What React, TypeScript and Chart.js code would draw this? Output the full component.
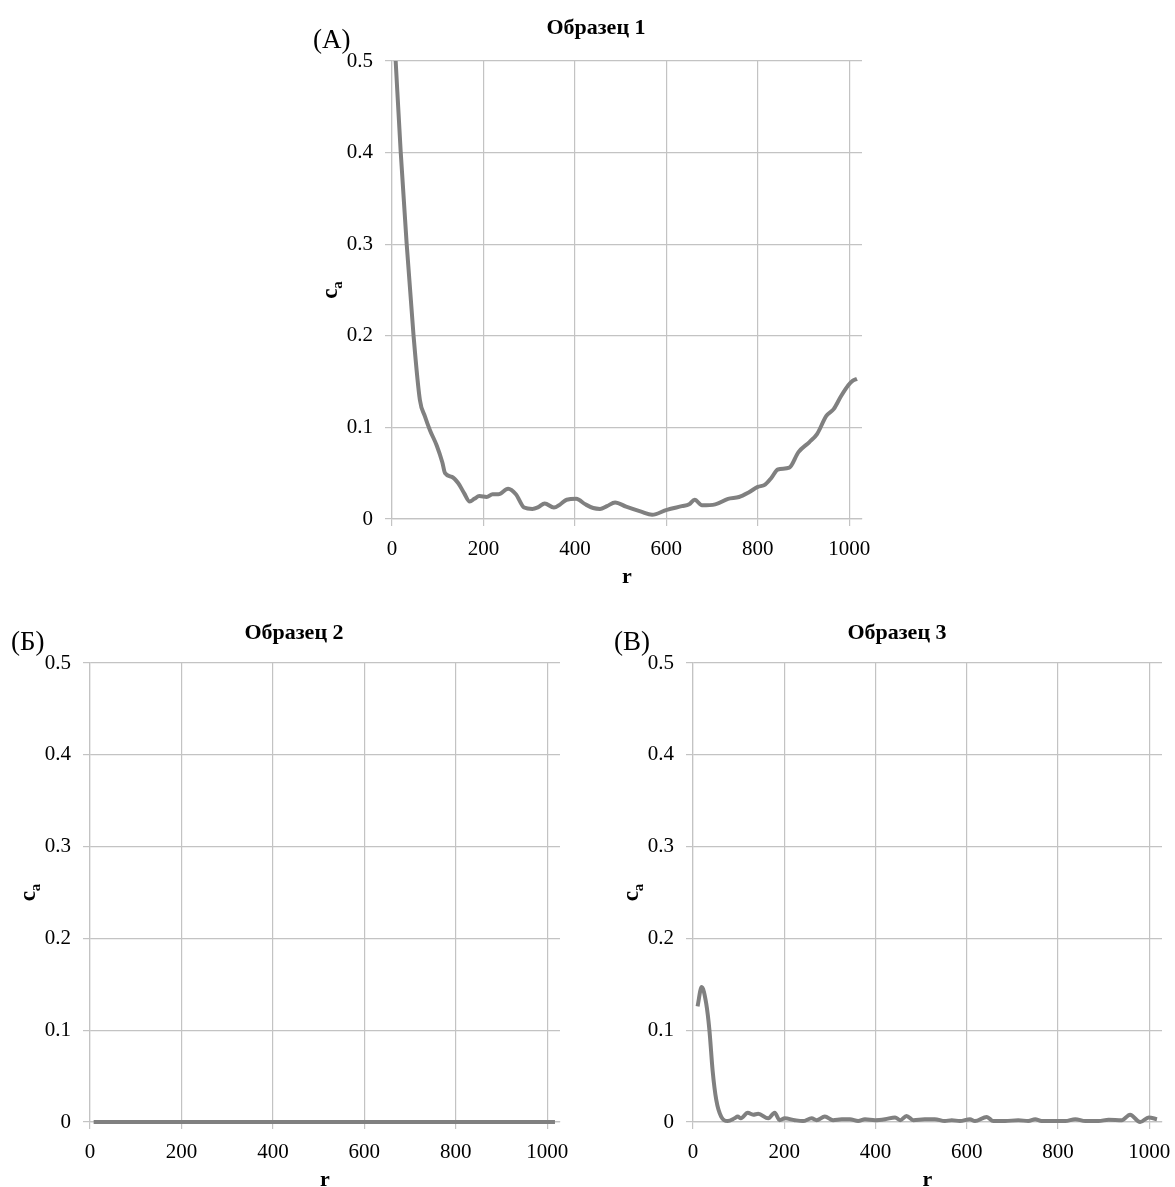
import React, { useEffect, useRef } from 'react';
import { Chart, registerables } from 'chart.js';

Chart.register(...registerables);

const SERIF = '"Liberation Serif", "Times New Roman", serif';

const xTickValues = [0, 200, 400, 600, 800, 1000];
const yTickValues = [0, 0.1, 0.2, 0.3, 0.4, 0.5];
const yTickLabels = ['0', '0.1', '0.2', '0.3', '0.4', '0.5'];
const xAxisTitle = 'r';
const yAxisTitleMain = 'c';
const yAxisTitleSub = 'a';

const titles = ['Образец 1', 'Образец 2', 'Образец 3'];
const panelLabels = ['(А)', '(Б)', '(В)'];

// Образец 1
const rA = [8, 19, 32, 47, 61, 72, 83, 98, 110, 116, 131, 145, 158, 170, 180, 191, 207, 220, 233, 254, 271, 289, 307, 320, 334, 354, 368, 382, 403, 423, 440, 455, 470, 488, 512, 545, 569, 601, 634, 650, 662, 678, 707, 735, 759, 780, 800, 816, 830, 844, 869, 889, 913, 930, 950, 966, 982, 998, 1008, 1017];
const cA = [0.5, 0.401, 0.301, 0.201, 0.13, 0.112, 0.097, 0.08, 0.062, 0.05, 0.046, 0.039, 0.028, 0.019, 0.022, 0.025, 0.024, 0.027, 0.027, 0.033, 0.027, 0.0125, 0.011, 0.013, 0.017, 0.0125, 0.016, 0.021, 0.022, 0.016, 0.012, 0.011, 0.014, 0.018, 0.0135, 0.008, 0.0046, 0.01, 0.014, 0.016, 0.021, 0.015, 0.016, 0.022, 0.024, 0.029, 0.035, 0.0375, 0.045, 0.054, 0.056, 0.073, 0.084, 0.093, 0.1125, 0.12, 0.134, 0.146, 0.151, 0.153];

// Образец 2
const rB = [8, 200, 400, 600, 800, 1017];
const cB = [0, 0, 0, 0, 0, 0];

// Образец 3
const rV = [10, 19, 29, 36, 43, 51, 62, 76, 91, 98, 105, 120, 132, 143, 165, 179, 190, 201, 223, 241, 260, 271, 289, 307, 326, 344, 362, 377, 399, 421, 443, 454, 468, 483, 508, 530, 552, 567, 585, 607, 618, 644, 658, 684, 713, 735, 750, 764, 786, 816, 838, 860, 889, 911, 940, 958, 980, 999, 1017];
const cV = [0.126, 0.147, 0.129, 0.1, 0.056, 0.024, 0.0055, 0.001, 0.004, 0.006, 0.004, 0.01, 0.008, 0.009, 0.004, 0.01, 0.002, 0.004, 0.002, 0.001, 0.004, 0.002, 0.006, 0.002, 0.003, 0.003, 0.001, 0.003, 0.002, 0.003, 0.005, 0.002, 0.0065, 0.002, 0.003, 0.003, 0.001, 0.002, 0.001, 0.003, 0.001, 0.0055, 0.001, 0.001, 0.002, 0.001, 0.003, 0.001, 0.001, 0.001, 0.003, 0.001, 0.001, 0.0025, 0.002, 0.008, 0.0, 0.005, 0.003];

type Panel = {
  r: number[];
  c: number[];
  title: string;
  label: string;
  box: { left: number; top: number; width: number; height: number };
  areaLeft: number;
  padTop: number;
  padRight: number;
  xHeight: number;
  titleGap: number;
};

const panels: Panel[] = [
  { r: rA, c: cA, title: titles[0], label: panelLabels[0], box: { left: 300, top: 0, width: 580, height: 600 }, areaLeft: 92, padTop: 61, padRight: 18, xHeight: 81, titleGap: 27 },
  { r: rB, c: cB, title: titles[1], label: panelLabels[1], box: { left: 0, top: 600, width: 590, height: 587 }, areaLeft: 90, padTop: 63, padRight: 30, xHeight: 65, titleGap: 24 },
  { r: rV, c: cV, title: titles[2], label: panelLabels[2], box: { left: 600, top: 600, width: 575, height: 587 }, areaLeft: 93, padTop: 63, padRight: 13, xHeight: 65, titleGap: 24 },
];

const textPlugin = {
  id: 'panelText',
  afterDraw(chart: any, _args: any, opts: any) {
    const { ctx, chartArea } = chart;
    const { left, right, top, bottom } = chartArea;
    ctx.save();
    ctx.fillStyle = '#000';
    ctx.textBaseline = 'alphabetic';
    // title
    ctx.font = `bold 22px ${SERIF}`;
    ctx.textAlign = 'center';
    ctx.fillText(opts.title, left + 204, top - opts.titleGap);
    // panel label
    ctx.font = `27px ${SERIF}`;
    ctx.textAlign = 'left';
    ctx.fillText(opts.label, left - 79, top - 13);
    // x axis title
    ctx.font = `bold 22px ${SERIF}`;
    ctx.textAlign = 'center';
    ctx.fillText(xAxisTitle, (left + right) / 2, bottom + 64);
    // y axis title c_a
    ctx.translate(left - 55, (top + bottom) / 2);
    ctx.rotate(-Math.PI / 2);
    ctx.font = `bold 23px ${SERIF}`;
    const wc = ctx.measureText(yAxisTitleMain).width;
    ctx.font = `bold 15px ${SERIF}`;
    const wa = ctx.measureText(yAxisTitleSub).width;
    const x0 = -(wc + wa) / 2;
    ctx.textAlign = 'left';
    ctx.font = `bold 23px ${SERIF}`;
    ctx.fillText(yAxisTitleMain, x0, 0);
    ctx.font = `bold 15px ${SERIF}`;
    ctx.fillText(yAxisTitleSub, x0 + wc, 5);
    ctx.restore();
  },
};

function PanelChart({ p }: { p: Panel }) {
  const ref = useRef<HTMLCanvasElement | null>(null);
  useEffect(() => {
    if (!ref.current) return;
    const gridColor = '#c3c3c3';
    const chart = new Chart(ref.current, {
      type: 'line',
      data: {
        datasets: [
          {
            data: p.r.map((x, i) => ({ x, y: p.c[i] })),
            borderColor: '#808080',
            borderWidth: 4,
            pointRadius: 0,
            fill: false,
            cubicInterpolationMode: 'monotone',
            clip: { left: 5, top: 0, right: 5, bottom: 5 },
          },
        ],
      },
      options: {
        responsive: false,
        animation: false,
        devicePixelRatio: 1,
        layout: { padding: { top: p.padTop, right: p.padRight, left: 0, bottom: 0 } },
        plugins: {
          legend: { display: false },
          tooltip: { enabled: false },
          title: { display: false },
          panelText: { title: p.title, label: p.label, titleGap: p.titleGap },
        } as any,
        scales: {
          x: {
            type: 'linear',
            min: 0,
            max: 1028,
            afterBuildTicks: (s: any) => {
              s.ticks = xTickValues.map((v) => ({ value: v }));
            },
            afterFit: (s: any) => {
              s.height = p.xHeight;
              s.paddingLeft = 0;
              s.paddingRight = 0;
            },
            ticks: {
              color: '#000',
              font: { family: SERIF, size: 21 },
              padding: 11,
              maxRotation: 0,
              autoSkip: false,
              callback: (v: any) => String(v),
            },
            grid: { color: gridColor, tickColor: gridColor, tickLength: 7, lineWidth: 1.2 },
            border: { display: true, color: gridColor, width: 1.2 },
          },
          y: {
            type: 'linear',
            min: 0,
            max: 0.5,
            afterBuildTicks: (s: any) => {
              s.ticks = yTickValues.map((v) => ({ value: v }));
            },
            afterFit: (s: any) => {
              s.width = p.areaLeft;
              s.paddingTop = 0;
              s.paddingBottom = 0;
            },
            ticks: {
              color: '#000',
              font: { family: SERIF, size: 21 },
              padding: 12,
              autoSkip: false,
              callback: (v: any) => {
                const i = yTickValues.findIndex((t) => Math.abs(t - v) < 1e-9);
                return i >= 0 ? yTickLabels[i] : '';
              },
            },
            grid: { color: gridColor, tickColor: gridColor, tickLength: 7, lineWidth: 1.2 },
            border: { display: true, color: gridColor, width: 1.2 },
          },
        },
      },
      plugins: [textPlugin],
    } as any);
    return () => chart.destroy();
  }, [p]);
  return (
    <div style={{ position: 'absolute', left: p.box.left, top: p.box.top, width: p.box.width, height: p.box.height }}>
      <canvas ref={ref} width={p.box.width} height={p.box.height} style={{ display: 'block' }} />
    </div>
  );
}

export default function App() {
  return (
    <div style={{ position: 'absolute', left: 0, top: 0, width: 1175, height: 1187, overflow: 'hidden', background: '#fff' }}>
      {panels.map((p, i) => (
        <PanelChart key={i} p={p} />
      ))}
    </div>
  );
}
